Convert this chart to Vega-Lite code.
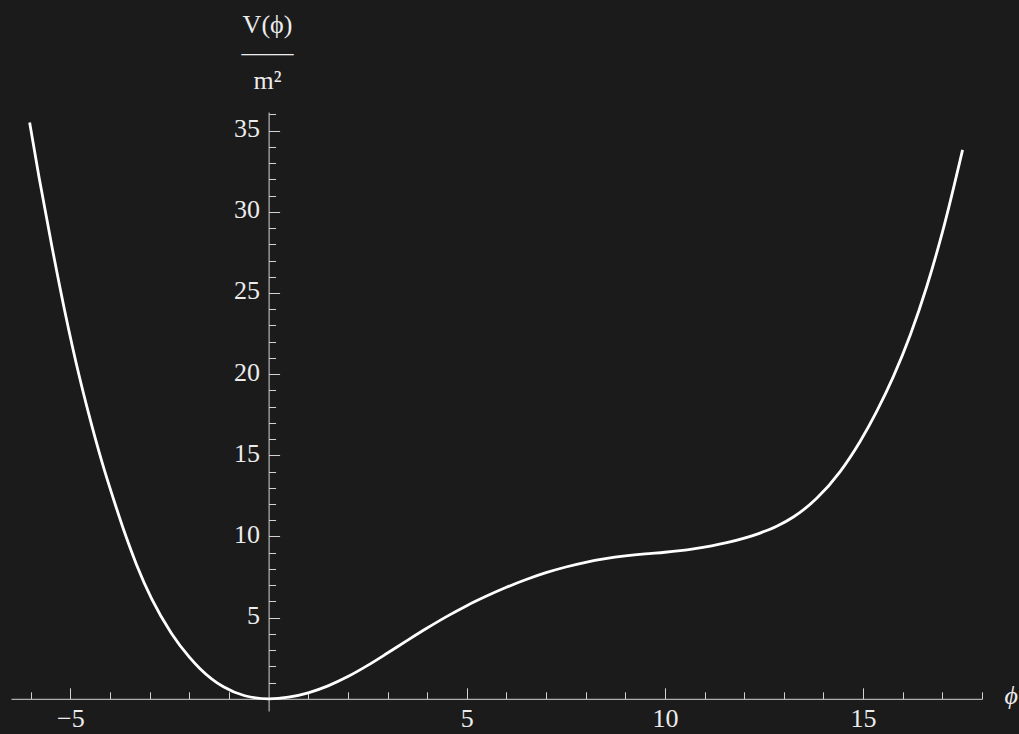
{
  "$schema": "https://vega.github.io/schema/vega-lite/v6.json",
  "width": 971,
  "height": 599,
  "autosize": {"type": "none"},
  "padding": {"left": 11, "top": 112, "right": 37, "bottom": 23},
  "background": "#1b1b1b",
  "config": {
    "view": {"stroke": null},
    "axis": {
      "grid": false,
      "domainColor": "#d2d2d2",
      "domainWidth": 1,
      "tickColor": "#d2d2d2",
      "tickWidth": 1,
      "labelFont": "Liberation Serif",
      "labelFontSize": 26,
      "labelColor": "#ececec",
      "titleFont": "Liberation Serif",
      "titleFontSize": 26,
      "titleFontWeight": "normal",
      "titleColor": "#ececec",
      "labelOverlap": false,
      "labelFlush": false
    }
  },
  "data": {
    "values": [
      {"phi": -6.03, "v": 35.5},
      {"phi": -5.79, "v": 32.1},
      {"phi": -5.47, "v": 27.9},
      {"phi": -5.14, "v": 23.85},
      {"phi": -4.78, "v": 19.9},
      {"phi": -4.56, "v": 17.75},
      {"phi": -4.2, "v": 14.55},
      {"phi": -3.88, "v": 12.05},
      {"phi": -3.62, "v": 10.15},
      {"phi": -3.33, "v": 8.25},
      {"phi": -2.95, "v": 6.15},
      {"phi": -2.45, "v": 4.03},
      {"phi": -2.0, "v": 2.57},
      {"phi": -1.73, "v": 1.86},
      {"phi": -1.14, "v": 0.74},
      {"phi": -0.6, "v": 0.19},
      {"phi": 0, "v": 0},
      {"phi": 0.5, "v": 0.1},
      {"phi": 1, "v": 0.37},
      {"phi": 1.5, "v": 0.8},
      {"phi": 2, "v": 1.37},
      {"phi": 2.5, "v": 2.06},
      {"phi": 3, "v": 2.82},
      {"phi": 3.5, "v": 3.6},
      {"phi": 4, "v": 4.36},
      {"phi": 4.5, "v": 5.08},
      {"phi": 5, "v": 5.74},
      {"phi": 5.5, "v": 6.33},
      {"phi": 6, "v": 6.87},
      {"phi": 6.5, "v": 7.35},
      {"phi": 7, "v": 7.77},
      {"phi": 7.5, "v": 8.12},
      {"phi": 8, "v": 8.41},
      {"phi": 8.5, "v": 8.63},
      {"phi": 9, "v": 8.8},
      {"phi": 9.5, "v": 8.93},
      {"phi": 10, "v": 9.03},
      {"phi": 10.72, "v": 9.24},
      {"phi": 11.56, "v": 9.62},
      {"phi": 12.4, "v": 10.21},
      {"phi": 12.82, "v": 10.63},
      {"phi": 13.24, "v": 11.2},
      {"phi": 13.83, "v": 12.35},
      {"phi": 14.42, "v": 14.0},
      {"phi": 14.92, "v": 15.84},
      {"phi": 15.34, "v": 17.69},
      {"phi": 15.76, "v": 19.83},
      {"phi": 16.19, "v": 22.41},
      {"phi": 16.61, "v": 25.43},
      {"phi": 17.02, "v": 28.92},
      {"phi": 17.51, "v": 33.82}
    ]
  },
  "mark": {"type": "line", "color": "#ffffff", "strokeWidth": 2.8, "interpolate": "monotone"},
  "encoding": {
    "x": {
      "field": "phi",
      "type": "quantitative",
      "scale": {"domain": [-6.5, 18], "nice": false, "zero": false},
      "axis": {
        "values": [-6, -5, -4, -3, -2, -1, 1, 2, 3, 4, 5, 6, 7, 8, 9, 10, 11, 12, 13, 14, 15, 16, 17, 18],
        "labelExpr": "datum.value % 5 === 0 ? datum.label : ''",
        "tickSize": {"condition": {"test": "datum.value % 5 === 0", "value": -11}, "value": -7},
        "labelPadding": 18,
        "offset": -12.2,
        "title": "ϕ",
        "titleFontStyle": "italic",
        "titleX": 993,
        "titleY": 5,
        "titleAlign": "left",
        "titleBaseline": "alphabetic",
        "titleAngle": 0
      }
    },
    "y": {
      "field": "v",
      "type": "quantitative",
      "scale": {"domain": [-0.75, 36.15], "nice": false, "zero": false},
      "axis": {
        "values": [1, 2, 3, 4, 5, 6, 7, 8, 9, 10, 11, 12, 13, 14, 15, 16, 17, 18, 19, 20, 21, 22, 23, 24, 25, 26, 27, 28, 29, 30, 31, 32, 33, 34, 35, 36],
        "labelExpr": "datum.value % 5 === 0 ? datum.label : ''",
        "tickSize": {"condition": {"test": "datum.value % 5 === 0", "value": -11}, "value": -7},
        "labelPadding": 20,
        "labelOffset": -2,
        "offset": -257.6,
        "title": ["V(ϕ)", "——", "m²"],
        "titleAngle": 0,
        "titleX": -1.6,
        "titleY": -101,
        "titleAlign": "center",
        "titleBaseline": "top",
        "titleLineHeight": 28
      }
    }
  }
}
